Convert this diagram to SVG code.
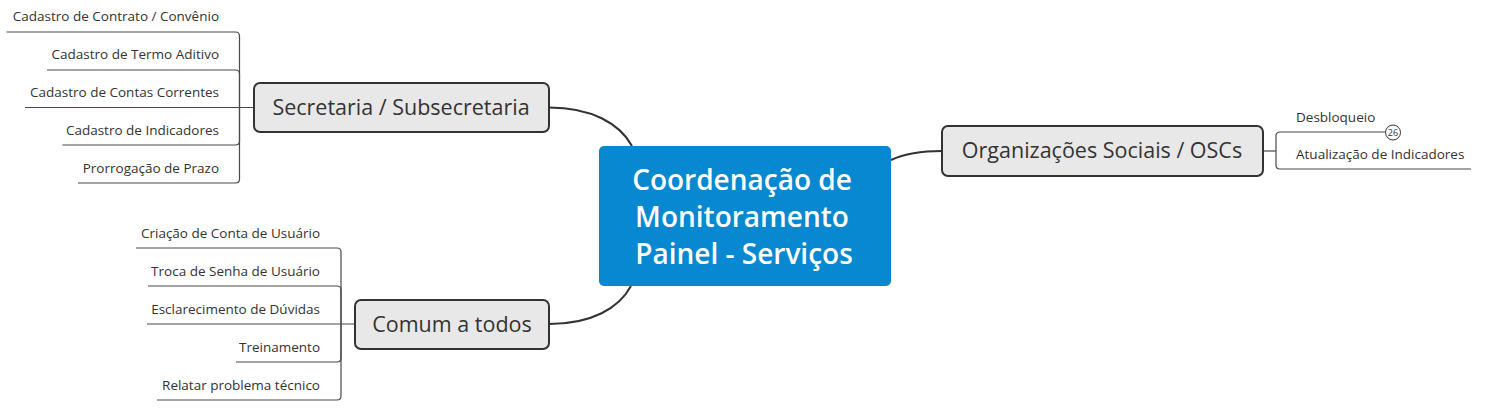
<svg xmlns="http://www.w3.org/2000/svg" width="1490" height="412" viewBox="0 0 1490 412">
<style>
.bg{fill:#ffffff}
.main{fill:none;stroke:#333333;stroke-width:2}
.leafline{fill:none;stroke:#4a4a4a;stroke-width:1.2}
.box{fill:#e8e8e8;stroke:#333333;stroke-width:2}
.center{fill:#0788d0}
.t2{font-family:"Open Sans","Liberation Sans",sans-serif;font-size:21.5px;fill:#333333;text-anchor:middle}
.tc{font-family:"Open Sans","Liberation Sans",sans-serif;font-size:28px;font-weight:600;fill:#ffffff;text-anchor:middle}
.leaf{font-family:"Open Sans","Liberation Sans",sans-serif;font-size:13.5px;fill:#333333}
.le{text-anchor:end}
.badge{fill:#ffffff;stroke:#333333;stroke-width:1}
.bt{font-family:"Open Sans","Liberation Sans",sans-serif;font-size:9px;fill:#333333;text-anchor:middle}
</style>
<rect class="bg" x="0" y="0" width="1490" height="412"/>
<g id="connectors">
  <path class="main" d="M549,107.5 C592,107.5 620,124 632,146"/>
  <path class="main" d="M631,286 C619,308 592,324 549,324"/>
  <path class="main" d="M891,160 C904,154 918,151 942,151"/>
  <path class="leafline" d="M254,107.5 H25"/>
  <path class="leafline" d="M239.5,107.5 V36 Q239.5,32 235.5,32 H6.5"/>
  <path class="leafline" d="M239.5,107.5 V74 Q239.5,70 235.5,70 H47"/>
  <path class="leafline" d="M239.5,107.5 V141 Q239.5,145 235.5,145 H62.5"/>
  <path class="leafline" d="M239.5,107.5 V179 Q239.5,183 235.5,183 H78"/>
  <path class="leafline" d="M355,324 H147"/>
  <path class="leafline" d="M341,324 V252 Q341,248 337,248 H136"/>
  <path class="leafline" d="M341,324 V290 Q341,286 337,286 H148"/>
  <path class="leafline" d="M341,324 V358 Q341,362 337,362 H236"/>
  <path class="leafline" d="M341,324 V396 Q341,400 337,400 H157"/>
  <path class="leafline" d="M1263,151 H1276"/>
  <path class="leafline" d="M1276,151 V136 Q1276,132 1280,132 H1386"/>
  <path class="leafline" d="M1276,151 V165 Q1276,169 1280,169 H1471"/>
</g>
<g id="center-node">
  <rect class="center" x="599" y="146" width="292" height="140" rx="5"/>
  <text class="tc" x="742" y="189.5">Coordenação de</text>
  <text class="tc" x="742" y="226.5">Monitoramento</text>
  <text class="tc" x="744" y="263.5">Painel - Serviços</text>
</g>
<g id="secretaria">
  <rect class="box" x="254" y="83" width="295" height="49" rx="6"/>
  <text class="t2" x="401" y="115">Secretaria / Subsecretaria</text>
</g>
<g id="comum">
  <rect class="box" x="355" y="300" width="194" height="49" rx="6"/>
  <text class="t2" x="452" y="332">Comum a todos</text>
</g>
<g id="oscs">
  <rect class="box" x="942" y="126" width="321" height="50" rx="6"/>
  <text class="t2" x="1102" y="158">Organizações Sociais / OSCs</text>
</g>
<g id="sec-leaf-1"><text class="leaf le" x="219" y="21">Cadastro de Contrato / Convênio</text></g>
<g id="sec-leaf-2"><text class="leaf le" x="219" y="59">Cadastro de Termo Aditivo</text></g>
<g id="sec-leaf-3"><text class="leaf le" x="219" y="97">Cadastro de Contas Correntes</text></g>
<g id="sec-leaf-4"><text class="leaf le" x="219" y="134.5">Cadastro de Indicadores</text></g>
<g id="sec-leaf-5"><text class="leaf le" x="219" y="172.5">Prorrogação de Prazo</text></g>
<g id="com-leaf-1"><text class="leaf le" x="320" y="237.5">Criação de Conta de Usuário</text></g>
<g id="com-leaf-2"><text class="leaf le" x="320" y="275.5">Troca de Senha de Usuário</text></g>
<g id="com-leaf-3"><text class="leaf le" x="320" y="313.5">Esclarecimento de Dúvidas</text></g>
<g id="com-leaf-4"><text class="leaf le" x="320" y="351.5">Treinamento</text></g>
<g id="com-leaf-5"><text class="leaf le" x="320" y="389.5">Relatar problema técnico</text></g>
<g id="osc-leaf-1">
  <text class="leaf" x="1296" y="121.5">Desbloqueio</text>
  <circle class="badge" cx="1393" cy="132.5" r="7.5"/>
  <text class="bt" x="1393" y="135.7">26</text>
</g>
<g id="osc-leaf-2"><text class="leaf" x="1296" y="158.5">Atualização de Indicadores</text></g>
</svg>
